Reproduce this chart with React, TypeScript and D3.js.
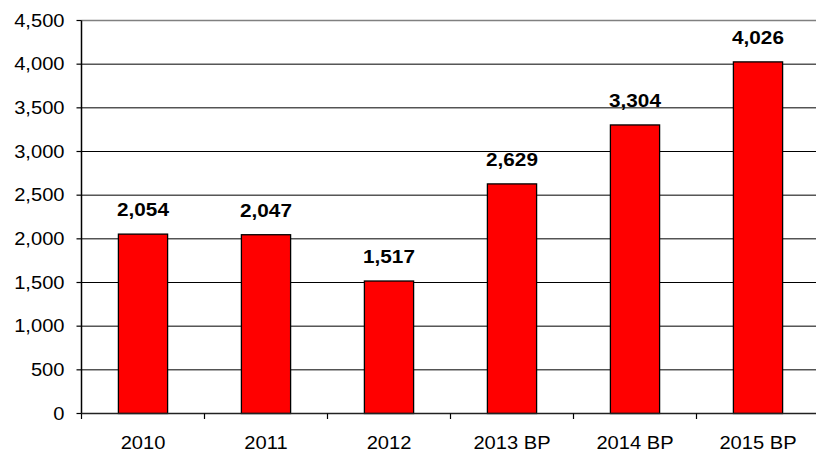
import React from "react";
import * as d3 from "d3";

const categories = ["2010", "2011", "2012", "2013 BP", "2014 BP", "2015 BP"];
const values = [2054, 2047, 1517, 2629, 3304, 4026];
const yTicks = [0, 500, 1000, 1500, 2000, 2500, 3000, 3500, 4000, 4500];

const W = 816;
const H = 452;
const FONT = "'Liberation Sans', Arial, sans-serif";
const SX = 1.15;

export default function App() {
  const x = d3
    .scaleBand<string>()
    .domain(categories)
    .range([81.5, 81.5 + 123 * 6])
    .paddingInner(0.6)
    .paddingOuter(0.3);
  const y = d3.scaleLinear().domain([0, 4500]).range([413.5, 20.5]);
  const fmt = d3.format(",");
  const step = x.step();
  const x0 = 81.5;
  const boundaries = d3.range(0, categories.length + 1).map((i) => x0 + i * step);

  return (
    <svg
      width={W}
      height={H}
      style={{ position: "absolute", left: 0, top: 0, background: "#fff" }}
    >
      {/* gridlines */}
      {yTicks.filter((t) => t !== 0 && t !== 4500).map((t) => (
        <line key={t} x1={x0} x2={W} y1={y(t)} y2={y(t)} stroke="#000" strokeWidth={1} />
      ))}
      <line x1={x0} x2={W} y1={y(4500)} y2={y(4500)} stroke="#808080" strokeWidth={1.5} />
      {/* bars */}
      {categories.map((c, i) => (
        <rect
          key={c}
          x={x(c)}
          y={y(values[i])}
          width={x.bandwidth()}
          height={y(0) - y(values[i])}
          fill="#FF0000"
          stroke="#000"
          strokeWidth={1.3}
        />
      ))}
      {/* axes */}
      <line x1={x0} x2={x0} y1={y(4500)} y2={y(0)} stroke="#000" strokeWidth={1.5} />
      <line x1={x0} x2={W} y1={y(0)} y2={y(0)} stroke="#222" strokeWidth={1.5} />
      {yTicks.map((t) => (
        <g key={t}>
          <line x1={x0 - 5} x2={x0} y1={y(t)} y2={y(t)} stroke="#000" strokeWidth={1.2} />
          <g transform={`translate(${x0 - 17},${y(t) + 6.3}) scale(${SX},1)`}>
            <text textAnchor="end" fontFamily={FONT} fontSize={17.5} fill="#000">
              {fmt(t)}
            </text>
          </g>
        </g>
      ))}
      {boundaries.map((b, i) => (
        <line key={i} x1={b} x2={b} y1={y(0)} y2={y(0) + 5.5} stroke="#000" strokeWidth={1.2} />
      ))}
      {categories.map((c) => (
        <g key={c} transform={`translate(${(x(c) as number) + x.bandwidth() / 2},449) scale(${SX},1)`}>
          <text textAnchor="middle" fontFamily={FONT} fontSize={17.5} fill="#000">
            {c}
          </text>
        </g>
      ))}
      {/* value labels */}
      {categories.map((c, i) => (
        <g
          key={c}
          transform={`translate(${(x(c) as number) + x.bandwidth() / 2},${y(values[i]) - 18}) scale(1.12,1)`}
        >
          <text textAnchor="middle" fontFamily={FONT} fontSize={18.5} fontWeight="bold" fill="#000">
            {fmt(values[i])}
          </text>
        </g>
      ))}
    </svg>
  );
}
